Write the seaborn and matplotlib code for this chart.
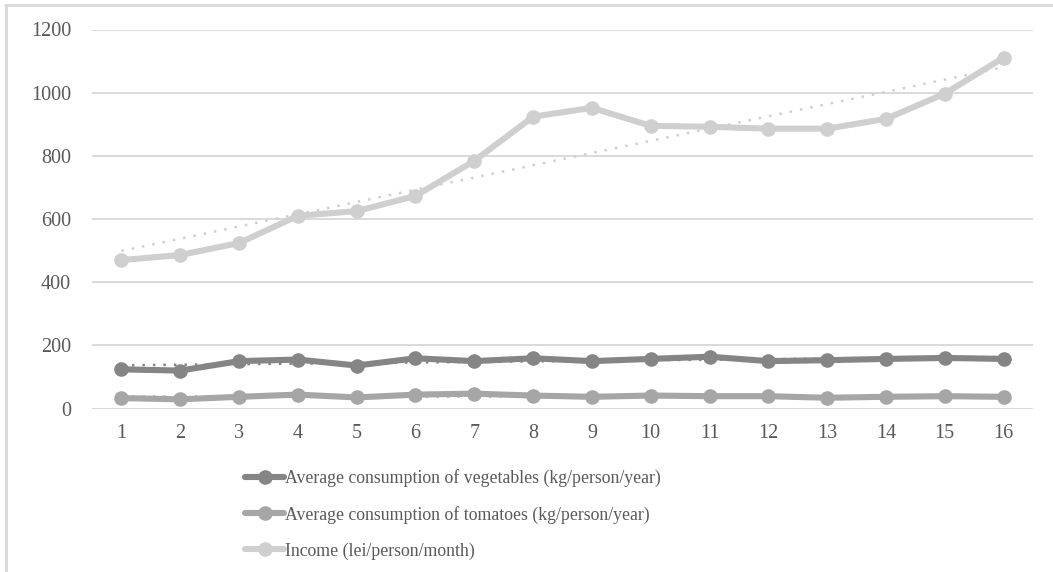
import matplotlib
matplotlib.use("Agg")
import matplotlib.pyplot as plt
import numpy as np
import pandas as pd
import seaborn as sns
from matplotlib.lines import Line2D

# data
years = list(range(1, 17))
vegetables = [124, 120, 150, 155, 136, 159, 150, 159, 150, 157, 164, 150, 153, 157, 160, 157]
tomatoes = [33, 29, 37, 44, 35, 44, 47, 41, 37, 41, 39, 39, 34, 37, 39, 37]
income = [470, 486, 524, 610, 625, 673, 784, 924, 952, 895, 892, 886, 886, 917, 997, 1111]

labels = [
    'Average consumption of vegetables (kg/person/year)',
    'Average consumption of tomatoes (kg/person/year)',
    'Income (lei/person/month)',
]
colors = ['#858585', '#a6a6a6', '#cfcfcf']
y_ticks = [0, 200, 400, 600, 800, 1000, 1200]

sns.set_theme(style="white")
plt.rcParams['font.family'] = ['Liberation Serif', 'DejaVu Serif']

fig = plt.figure(figsize=(10.53, 5.72), dpi=100)
ax = fig.add_axes([92 / 1053, 1 - 408.5 / 572, (1033 - 92) / 1053, 379 / 572])

series = [vegetables, tomatoes, income]
handles = []
for vals, lab, col in zip(series, labels, colors):
    df = pd.DataFrame({'x': years, 'y': vals})
    sns.lineplot(data=df, x='x', y='y', ax=ax, color=col, linewidth=4.4,
                 marker='o', markersize=10.5, markeredgewidth=0, zorder=3)
    # linear trendline like the original (dotted)
    sns.regplot(data=df, x='x', y='y', ax=ax, scatter=False, ci=None, truncate=True,
                line_kws=dict(color=col, linewidth=1.8, linestyle=(0, (1, 3.2)), zorder=4))
    handles.append(Line2D([], [], color=col, linewidth=4.4, marker='o', markersize=10.5,
                          markeredgewidth=0, label=lab))

ax.set_xlim(0.5, 16.5)
ax.set_ylim(0, 1200)
ax.set_xticks(years)
ax.set_yticks(y_ticks)
ax.set_xlabel('')
ax.set_ylabel('')
ax.grid(axis='y', color='#d9d9d9', linewidth=1.4)
ax.grid(axis='x', visible=False)
ax.set_axisbelow(True)
for s in ax.spines.values():
    s.set_visible(False)
ax.tick_params(axis='both', length=0, labelsize=14.5, labelcolor='#595959')
ax.tick_params(axis='y', pad=15)
ax.tick_params(axis='x', pad=11)

fig.legend(handles=handles, loc='upper left', bbox_to_anchor=(238 / 1053, 1 - 462 / 572),
           frameon=False, fontsize=12.8, labelcolor='#595959', handlelength=2.2,
           handletextpad=0.05, labelspacing=1.05, borderaxespad=0)

# outer chart frame (only top and left edges are visible in the crop)
fig.add_artist(Line2D([5 / 1053, 1], [1 - 5 / 572, 1 - 5 / 572], color='#d9d9d9', linewidth=2))
fig.add_artist(Line2D([6 / 1053, 6 / 1053], [0, 1 - 5 / 572], color='#d9d9d9', linewidth=2))

fig.savefig('out.png', dpi=100)
